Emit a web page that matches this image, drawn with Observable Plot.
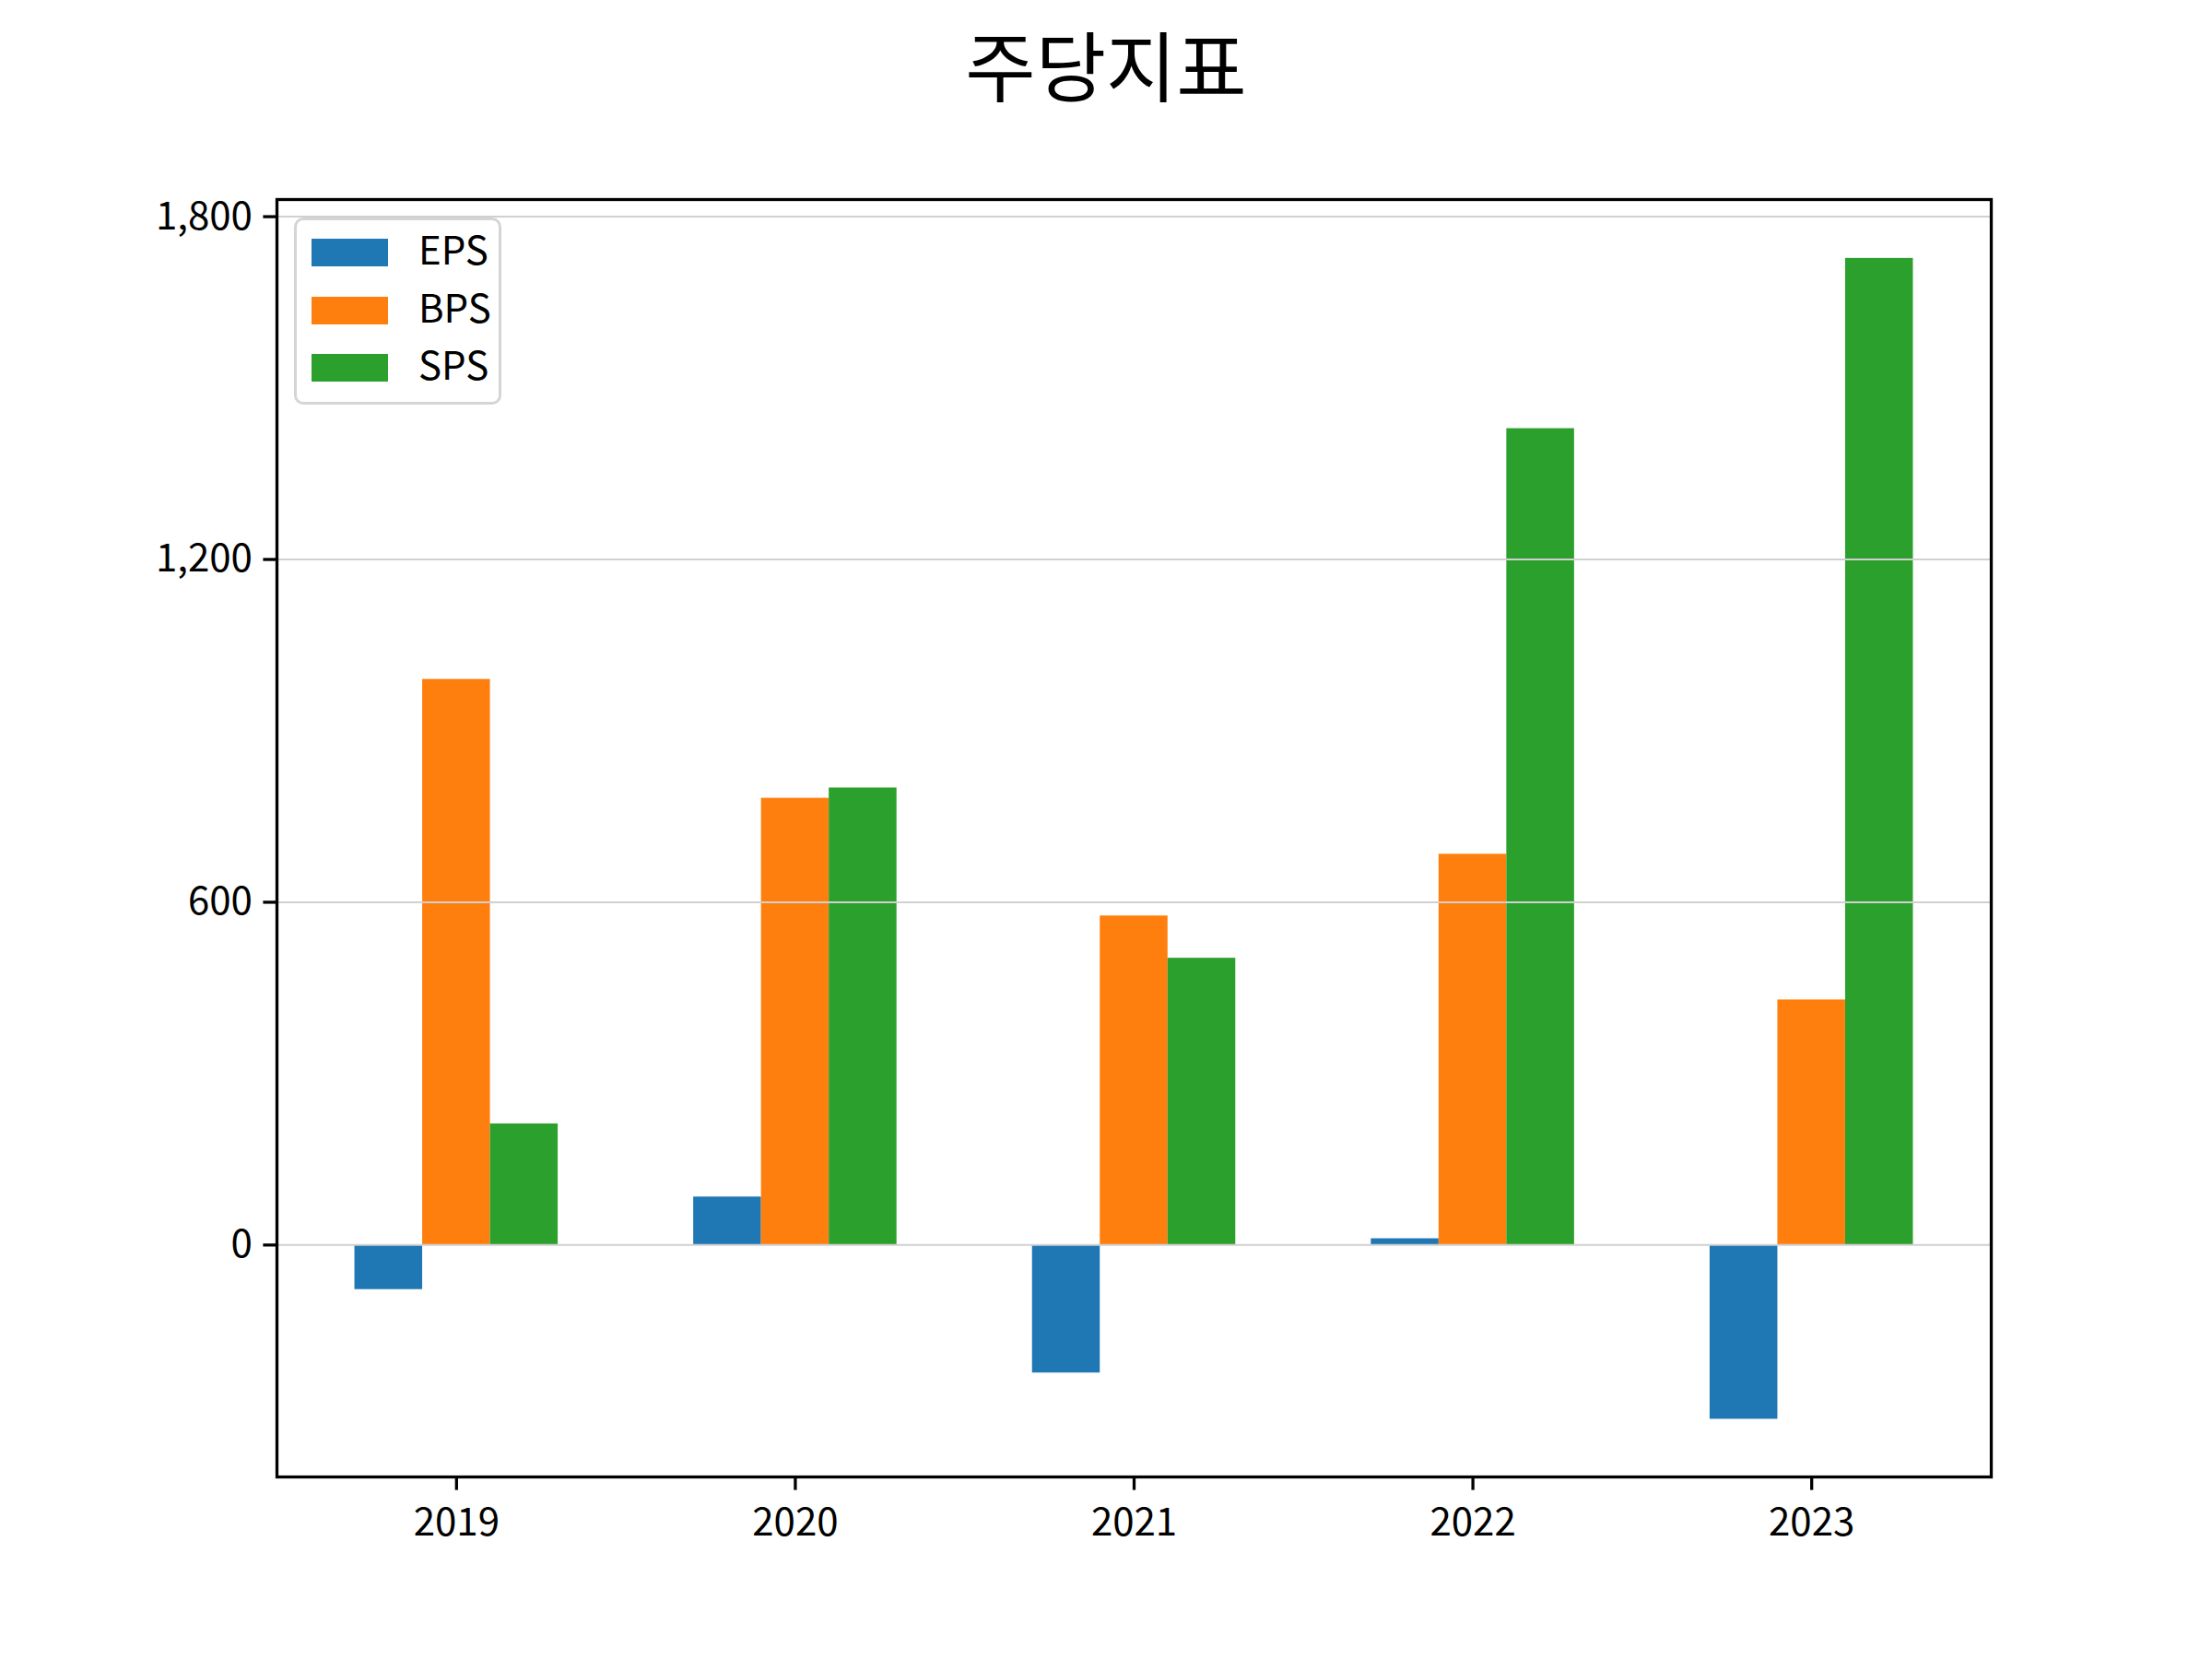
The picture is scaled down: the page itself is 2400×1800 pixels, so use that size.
<!DOCTYPE html>
<html>
<head>
<meta charset="utf-8">
<script src="https://cdn.jsdelivr.net/npm/d3@7"></script>
<script src="https://cdn.jsdelivr.net/npm/@observablehq/plot@0.6"></script>
<style>
  html, body { margin: 0; padding: 0; background: #fff; }
  body { width: 2400px; height: 1800px; position: relative; font-family: "Noto Sans CJK KR", "Noto Sans", sans-serif; }
  #title { height: 150px; line-height: 136px; text-align: center; font-size: 83px; color: #000; }
  #legend { position: absolute; left: 319px; top: 236px; width: 225px; height: 203px; border: 3px solid #d5d5d5; border-radius: 10px; background: rgba(255,255,255,0.8); box-sizing: border-box; }
  .item { position: absolute; left: 16px; height: 40px; }
  .sw { position: absolute; left: 0; width: 83px; height: 30px; top: 5px; }
  .lab { position: absolute; left: 116px; top: -15px; font-size: 42px; line-height: 60px; color: #000; white-space: nowrap; }
</style>
</head>
<body>
<div id="title">주당지표</div>
<div id="chart"></div>
<div id="legend"></div>
<script>
const years = ["2019", "2020", "2021", "2022", "2023"];
const seriesNames = ["EPS", "BPS", "SPS"];
const seriesColors = ["#1f77b4", "#ff7f0e", "#2ca02c"];
const eps = [-78, 84, -224, 11, -305];
const bps = [990, 782, 576, 684, 429];
const sps = [212, 800, 502, 1429, 1727];
const yTicks = [0, 600, 1200, 1800];

const valuesBySeries = [eps, bps, sps];
const rows = [];
seriesNames.forEach((s, k) => {
  valuesBySeries[k].forEach((v, i) => {
    rows.push({i, k, series: s, value: v});
  });
});
const barW = 0.2;
const offsets = [-0.2, 0, 0.2];

const chart = Plot.plot({
  width: 2400,
  height: 1650,
  marginLeft: 300,
  marginRight: 240,
  marginTop: 66,
  marginBottom: 198,
  style: {fontFamily: '"Noto Sans CJK KR", "Noto Sans", sans-serif', fontSize: "42px", background: "#fff", color: "#000"},
  x: {domain: [-0.53, 4.53]},
  y: {domain: [-406, 1830]},
  color: {domain: seriesNames, range: seriesColors},
  marks: [
    Plot.rect(rows, {
      x1: d => d.i + offsets[d.k] - barW / 2,
      x2: d => d.i + offsets[d.k] + barW / 2,
      y1: 0,
      y2: "value",
      fill: "series"
    }),
    Plot.ruleY(yTicks, {stroke: "#d0d0d0", strokeWidth: 2}),
    Plot.axisY({ticks: yTicks, tickFormat: d3.format(","), tickSize: 14.6, tickPadding: 12, strokeWidth: 3.3, fontSize: 42, label: null}),
    Plot.axisX({ticks: [0, 1, 2, 3, 4], tickFormat: i => years[i], tickSize: 14.6, tickPadding: 19, strokeWidth: 3.3, fontSize: 42, label: null}),
    Plot.frame({stroke: "#000", strokeWidth: 3.3})
  ]
});
document.getElementById("chart").appendChild(chart);

const legend = document.getElementById("legend");
seriesNames.forEach((s, k) => {
  const item = document.createElement("div");
  item.className = "item";
  item.style.top = (15 + k * 62.5) + "px";
  const sw = document.createElement("div");
  sw.className = "sw";
  sw.style.background = seriesColors[k];
  const lab = document.createElement("div");
  lab.className = "lab";
  lab.textContent = s;
  item.appendChild(sw);
  item.appendChild(lab);
  legend.appendChild(item);
});
</script>
</body>
</html>
